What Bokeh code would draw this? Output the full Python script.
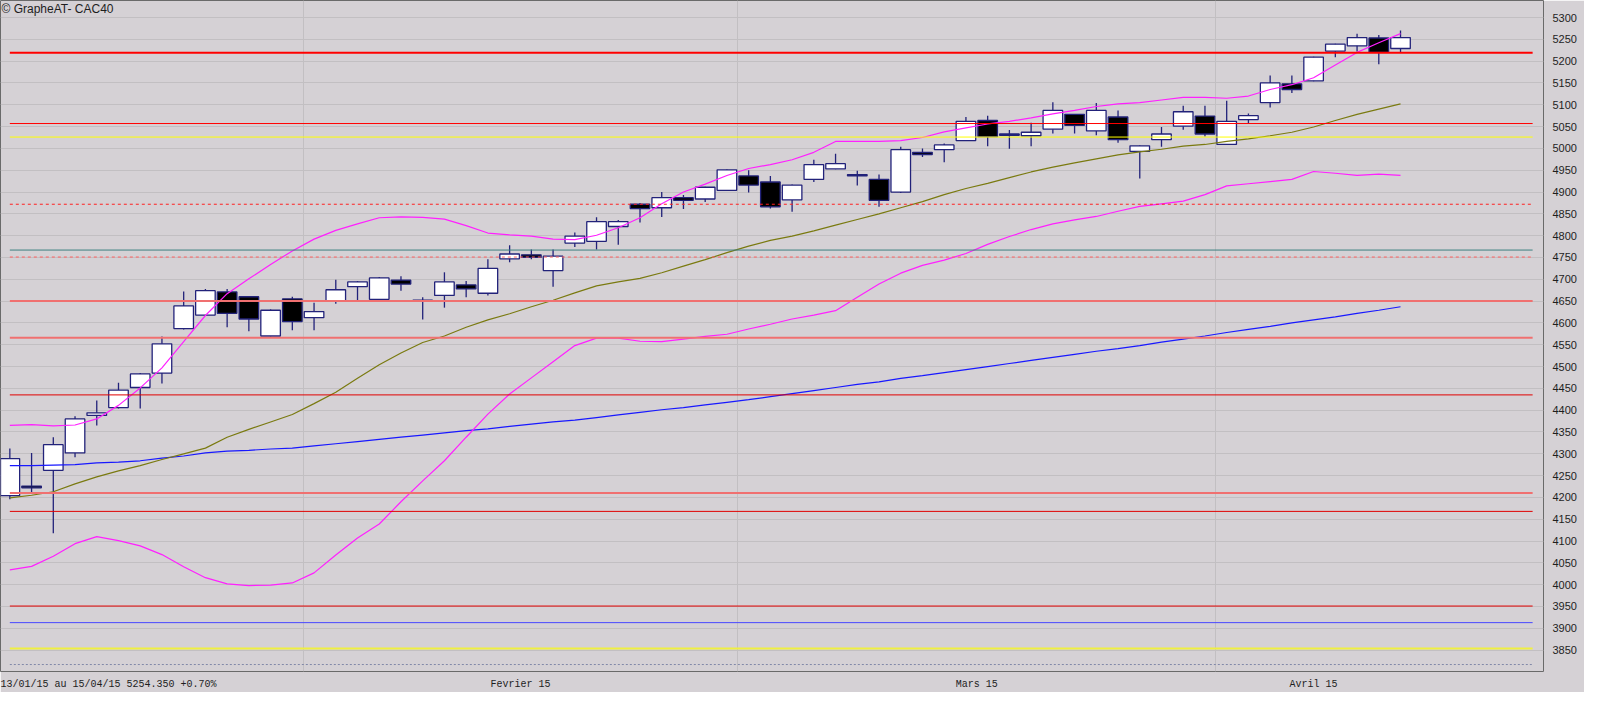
from bokeh.plotting import figure
from bokeh.models import Range1d, FixedTicker, ColumnDataSource, Label
from bokeh.embed import file_html
from bokeh.resources import INLINE

# ---------------- data ----------------
DATES = [
    "2015-01-13", "2015-01-14", "2015-01-15", "2015-01-16", "2015-01-19", "2015-01-20", "2015-01-21",
    "2015-01-22", "2015-01-23", "2015-01-26", "2015-01-27", "2015-01-28", "2015-01-29", "2015-01-30",
    "2015-02-02", "2015-02-03", "2015-02-04", "2015-02-05", "2015-02-06", "2015-02-09", "2015-02-10",
    "2015-02-11", "2015-02-12", "2015-02-13", "2015-02-16", "2015-02-17", "2015-02-18", "2015-02-19",
    "2015-02-20", "2015-02-23", "2015-02-24", "2015-02-25", "2015-02-26", "2015-02-27",
    "2015-03-02", "2015-03-03", "2015-03-04", "2015-03-05", "2015-03-06", "2015-03-09", "2015-03-10",
    "2015-03-11", "2015-03-12", "2015-03-13", "2015-03-16", "2015-03-17", "2015-03-18", "2015-03-19",
    "2015-03-20", "2015-03-23", "2015-03-24", "2015-03-25", "2015-03-26", "2015-03-27", "2015-03-30",
    "2015-03-31",
    "2015-04-01", "2015-04-02", "2015-04-07", "2015-04-08", "2015-04-09", "2015-04-10", "2015-04-13",
    "2015-04-14", "2015-04-15",
]
OPEN = [4204, 4226, 4262, 4302, 4388, 4406, 4452, 4485, 4587, 4618, 4671, 4660, 4570, 4655,
        4612, 4651, 4683, 4654, 4698, 4652, 4663, 4687, 4668, 4747, 4756, 4720, 4783, 4787, 4821, 4872,
        4864, 4887, 4884, 4904, 4937, 4923, 4882, 4929, 4953, 4940, 4929, 4900, 4991, 4997, 5018, 5064,
        5033, 5029, 5044, 5078, 5040, 5072, 4993, 5020, 5051, 5074, 5009, 5066, 5105, 5148, 5155, 5223,
        5235, 5253, 5229]
HIGH = [4312, 4302, 4338, 4386, 4422, 4463, 4485, 4569, 4672, 4678, 4678, 4661, 4631, 4660,
        4646, 4699, 4696, 4705, 4707, 4659, 4716, 4696, 4746, 4778, 4768, 4768, 4807, 4842, 4836, 4875,
        4900, 4893, 4912, 4952, 4950, 4937, 4917, 4974, 4988, 4949, 4940, 5004, 5000, 5011, 5072, 5075,
        5042, 5059, 5106, 5079, 5104, 5087, 5007, 5049, 5098, 5098, 5109, 5080, 5167, 5167, 5210, 5240,
        5263, 5260, 5270]
LOW = [4196, 4208, 4118, 4292, 4365, 4404, 4404, 4461, 4585, 4617, 4590, 4581, 4569, 4583,
       4583, 4644, 4652, 4648, 4674, 4608, 4635, 4659, 4663, 4739, 4746, 4683, 4774, 4768, 4779, 4830,
       4843, 4861, 4877, 4903, 4899, 4862, 4855, 4923, 4952, 4915, 4866, 4898, 4980, 4968, 5017, 5005,
       4999, 5005, 5034, 5034, 5030, 5013, 4931, 5004, 5043, 5027, 5008, 5058, 5094, 5127, 5154, 5209,
       5222, 5193, 5220]
CLOSE = [4289, 4222, 4321, 4380, 4394, 4446, 4483, 4552, 4639, 4674, 4622, 4609, 4629, 4603,
         4626, 4676, 4694, 4703, 4689, 4651, 4694, 4678, 4725, 4758, 4750, 4753, 4799, 4832, 4832, 4862,
         4887, 4881, 4911, 4951, 4916, 4866, 4916, 4963, 4965, 4937, 4881, 4997, 4986, 5008, 5062, 5027,
         5030, 5037, 5087, 5053, 5087, 5020, 5006, 5033, 5084, 5033, 5062, 5075, 5150, 5135, 5209, 5239,
         5254, 5220, 5254]
BB_UPPER = [4365, 4367, 4364, 4366, 4380, 4411, 4451, 4497, 4557, 4617, 4667, 4701, 4734, 4765,
            4792, 4812, 4827, 4841, 4843, 4842, 4838, 4823, 4806, 4802, 4799, 4792, 4791, 4801, 4818,
            4841, 4873, 4900, 4918, 4938, 4954, 4963, 4974, 4991, 5016, 5016, 5016, 5018, 5025, 5038,
            5047, 5056, 5062, 5070, 5079, 5087, 5096, 5102, 5105, 5111, 5117, 5117, 5115, 5120, 5135,
            5146, 5162, 5191, 5220, 5242, 5263]
BB_LOWER = [4034, 4042, 4065, 4094, 4110, 4101, 4089, 4069, 4041, 4016, 4002, 3998, 3999, 4004,
            4027, 4068, 4107, 4139, 4190, 4238, 4284, 4338, 4391, 4437, 4474, 4511, 4548, 4565, 4565,
            4558, 4557, 4563, 4569, 4574, 4586, 4597, 4609, 4618, 4628, 4659, 4689, 4714, 4732, 4744,
            4759, 4780, 4798, 4814, 4827, 4836, 4844, 4856, 4867, 4873, 4879, 4894, 4914, 4919, 4924,
            4929, 4947, 4943, 4938, 4941, 4938]
MA_OLIVE = [4199, 4205, 4213, 4231, 4247, 4261, 4273, 4287, 4300, 4313, 4338, 4356, 4373, 4390,
            4415, 4441, 4473, 4504, 4531, 4555, 4570, 4590, 4607, 4621, 4637, 4652, 4669, 4685, 4694,
            4702, 4715, 4730, 4745, 4761, 4776, 4789, 4799, 4811, 4824, 4837, 4850, 4864, 4878, 4894,
            4908, 4920, 4933, 4946, 4957, 4967, 4976, 4985, 4992, 4998, 5005, 5009, 5016, 5022, 5029,
            5037, 5049, 5064, 5078, 5090, 5102]
MA_BLUE = [4273, 4273, 4274, 4275, 4279, 4281, 4284, 4290, 4295, 4302, 4306, 4308, 4311, 4313,
           4318, 4323, 4328, 4333, 4338, 4343, 4348, 4353, 4357, 4363, 4368, 4373, 4377, 4383, 4389,
           4395, 4401, 4406, 4412, 4418, 4424, 4431, 4438, 4445, 4452, 4459, 4465, 4473, 4479, 4486,
           4493, 4500, 4507, 4514, 4521, 4528, 4535, 4541, 4548, 4556, 4563, 4570, 4578, 4585, 4592,
           4600, 4607, 4614, 4622, 4629, 4637]
LEVELS = [5219, 5057, 5026, 4872, 4767, 4751, 4650, 4566, 4435, 4210, 4168, 3951, 3913, 3854, 3817]
Y_TICKS = list(range(3850, 5301, 50))
MONTH_NAMES = {"02": "Fevrier 15", "03": "Mars 15", "04": "Avril 15"}
TITLE = "\u00a9 GrapheAT- CAC40"
FOOTER = "13/01/15 au 15/04/15 5254.350 +0.70%"

# ---------------- styles ----------------
LEVEL_STYLES = [
    ("#ff0000", 2, "solid"), ("#ff0000", 1, "solid"), ("#ffff00", 1, "solid"),
    ("#ff2020", 1, "3 3"), ("#3c8080", 1, "solid"), ("#ff6060", 1, "3 3"),
    ("#f07070", 2, "solid"), ("#f07070", 2, "solid"), ("#e00000", 1, "solid"),
    ("#f07070", 2, "solid"), ("#e00000", 1, "solid"), ("#e00000", 1, "solid"),
    ("#4848ff", 1, "solid"), ("#f0f040", 2, "solid"), ("#8088a8", 1, "2 2"),
]
BG = "#d5d1d5"
GRID = "#c2bfc2"
NAVY = "#22227a"

idx = list(range(len(DATES)))
X0, X1 = -0.43, 70.58
Y0, Y1 = 3801, 5339
FRAME_W = 1543.0
PX_PER_X = FRAME_W / (X1 - X0)

p = figure(width=1584, height=692, x_range=Range1d(X0, X1), y_range=Range1d(Y0, Y1),
           output_backend="svg", toolbar_location=None, y_axis_location="right",
           min_border_left=0, min_border_top=0, min_border_right=41, min_border_bottom=0)
p.background_fill_color = BG
p.border_fill_color = BG
p.outline_line_color = "#6a6a6a"
p.outline_line_width = 1

# y axis / grid
p.yaxis.ticker = FixedTicker(ticks=Y_TICKS)
p.ygrid.ticker = FixedTicker(ticks=Y_TICKS)
p.yaxis.axis_line_color = None
p.yaxis.major_tick_line_color = None
p.yaxis.minor_tick_line_color = None
p.yaxis.major_label_text_font = "Liberation Sans"
p.yaxis.major_label_text_font_size = "11px"
p.yaxis.major_label_text_color = "#1e1e1e"
p.yaxis.major_label_standoff = 3
p.ygrid.grid_line_color = GRID

# month separators, month labels and footer (as bottom-axis labels)
seps, ticks, labels = [], [], {}
months = [d[5:7] for d in DATES]
for i in range(1, len(DATES)):
    if months[i] != months[i - 1]:
        seps.append(i - 0.5)
footer_half_px = len(FOOTER) * 6.0 / 2.0
footer_x = X0 + footer_half_px / PX_PER_X
ticks.append(footer_x)
labels[footer_x] = FOOTER
for m, name in MONTH_NAMES.items():
    ii = [i for i in idx if months[i] == m]
    mid = (ii[0] + ii[-1]) / 2.0
    ticks.append(mid)
    labels[mid] = name
p.xaxis.ticker = FixedTicker(ticks=ticks)
p.xaxis.major_label_overrides = labels
p.xgrid.ticker = FixedTicker(ticks=seps)
p.xgrid.grid_line_color = GRID
p.xaxis.axis_line_color = None
p.xaxis.major_tick_line_color = None
p.xaxis.minor_tick_line_color = None
p.xaxis.major_label_text_font = "Liberation Mono"
p.xaxis.major_label_text_font_size = "10px"
p.xaxis.major_label_text_color = "#1e1e1e"
p.xaxis.major_label_standoff = 1

# candles
up = [i for i in idx if CLOSE[i] >= OPEN[i]]
dn = [i for i in idx if CLOSE[i] < OPEN[i]]
src_all = ColumnDataSource(dict(x=idx, lo=LOW, hi=HIGH))
p.segment(x0="x", y0="lo", x1="x", y1="hi", source=src_all, line_color=NAVY, line_width=1.3)
src_up = ColumnDataSource(dict(x=up, top=[CLOSE[i] for i in up], bot=[OPEN[i] for i in up]))
src_dn = ColumnDataSource(dict(x=dn, top=[OPEN[i] for i in dn], bot=[CLOSE[i] for i in dn]))
p.vbar(x="x", width=0.9, top="top", bottom="bot", source=src_up,
       fill_color="#ffffff", line_color=NAVY, line_width=1.3)
p.vbar(x="x", width=0.9, top="top", bottom="bot", source=src_dn,
       fill_color="#000000", line_color=NAVY, line_width=1.3)

# indicators
p.line(idx, MA_BLUE, line_color="#1818ff", line_width=1.2)
p.line(idx, MA_OLIVE, line_color="#7a7a10", line_width=1.2)
p.line(idx, BB_UPPER, line_color="#ff20ff", line_width=1.2)
p.line(idx, BB_LOWER, line_color="#ff20ff", line_width=1.2)

# horizontal levels
x_end = X1 - 0.5
for lvl, (col, w, dash) in zip(LEVELS, LEVEL_STYLES):
    p.line([idx[0], x_end], [lvl, lvl], line_color=col, line_width=w, line_dash=dash)

# title inside the frame
px_per_y = (Y1 - Y0) / 672.0
p.add_layout(Label(x=X0, y=Y1 - 2 * px_per_y, text=TITLE, text_baseline="top", x_offset=1,
                   text_font="Liberation Sans", text_font_size="12px", text_color="#1e1e1e"))

open("out.html", "w").write(file_html(p, INLINE))
